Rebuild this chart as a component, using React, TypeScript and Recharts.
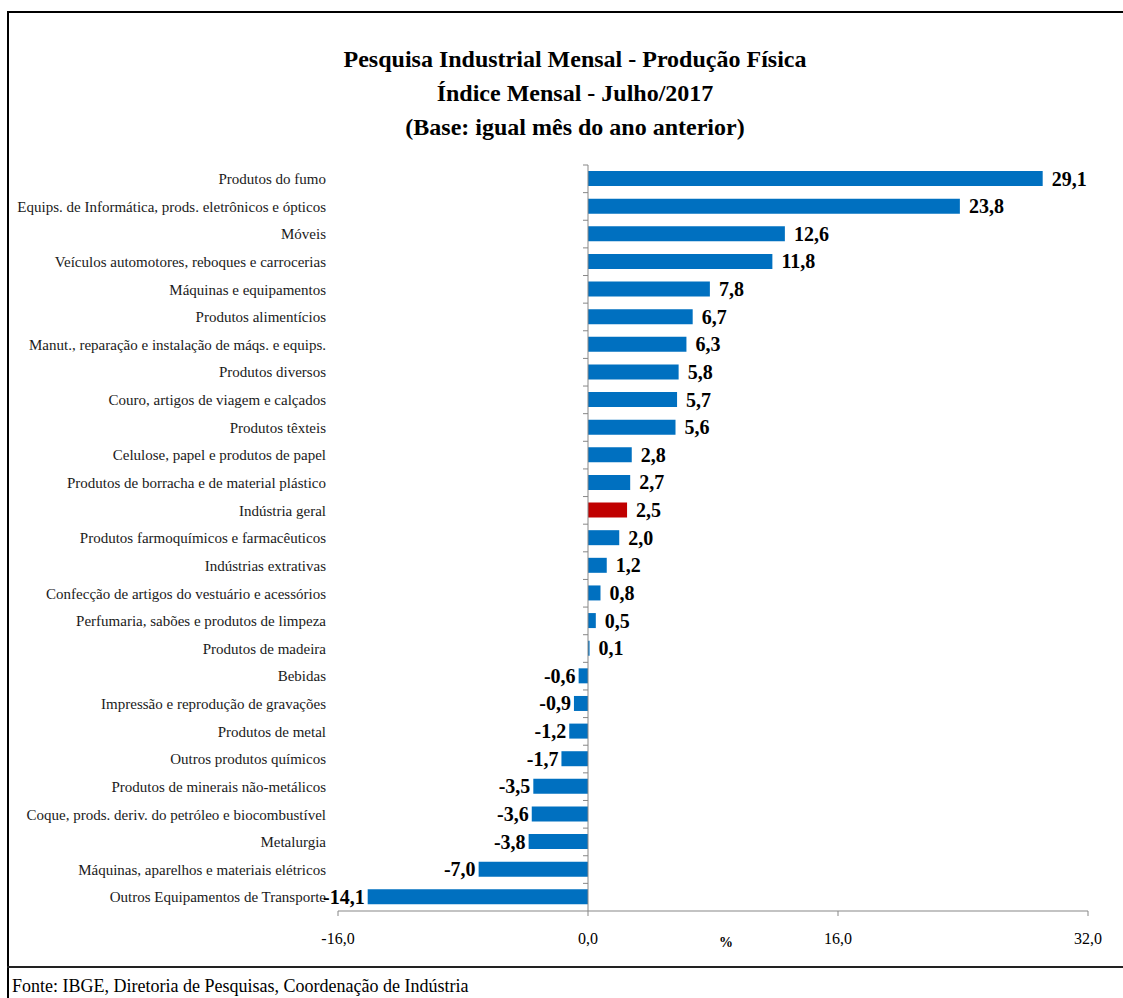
import { BarChart, Bar, XAxis, YAxis, Cell, LabelList, ReferenceLine } from 'recharts';

const categories = [
  'Produtos do fumo',
  'Equips. de Informática, prods. eletrônicos e ópticos',
  'Móveis',
  'Veículos automotores, reboques e carrocerias',
  'Máquinas e equipamentos',
  'Produtos alimentícios',
  'Manut., reparação e instalação de máqs. e equips.',
  'Produtos diversos',
  'Couro, artigos de viagem e calçados',
  'Produtos têxteis',
  'Celulose, papel e produtos de papel',
  'Produtos de borracha e de material plástico',
  'Indústria geral',
  'Produtos farmoquímicos e farmacêuticos',
  'Indústrias extrativas',
  'Confecção de artigos do vestuário e acessórios',
  'Perfumaria, sabões e produtos de limpeza',
  'Produtos de madeira',
  'Bebidas',
  'Impressão e reprodução de gravações',
  'Produtos de metal',
  'Outros produtos químicos',
  'Produtos de minerais não-metálicos',
  'Coque, prods. deriv. do petróleo e biocombustível',
  'Metalurgia',
  'Máquinas, aparelhos e materiais elétricos',
  'Outros Equipamentos de Transporte',
];

const values = [
  29.1, 23.8, 12.6, 11.8, 7.8, 6.7, 6.3, 5.8, 5.7, 5.6, 2.8, 2.7, 2.5, 2.0, 1.2,
  0.8, 0.5, 0.1, -0.6, -0.9, -1.2, -1.7, -3.5, -3.6, -3.8, -7.0, -14.1,
];

const xTicks = [-16, 0, 16, 32];
const highlight = 'Indústria geral';

const data = categories.map((label, i) => ({ label, value: values[i] }));

const W = 1123;
const H = 998;
const X_AXIS_H = 30;
const MARGIN = { top: 165, right: 35, bottom: 87 - X_AXIS_H, left: 8 };
const Y_AXIS_W = 330;
const PLOT_LEFT = MARGIN.left + Y_AXIS_W;
const PLOT_W = W - PLOT_LEFT - MARGIN.right;
const PLOT_H = H - MARGIN.top - MARGIN.bottom - X_AXIS_H;
const ZERO_X = PLOT_LEFT + (16 / 48) * PLOT_W;
const BAND = PLOT_H / categories.length;
const AXIS_GRAY = '#878787';
const FONT = '"Liberation Serif", "DejaVu Serif", serif';

const fmt = (v: number) => v.toFixed(1).replace('.', ',');

// category label plus the small tick on the zero line, between categories
const CategoryTick = (props: any) => {
  const { y, payload } = props;
  const top = y - BAND / 2;
  return (
    <g>
      <text x={326} y={y} dy="0.35em" textAnchor="end" fontSize={15} fill="#1a1a1a" fontFamily={FONT}>
        {payload.value}
      </text>
      <line x1={ZERO_X - 5} x2={ZERO_X} y1={top} y2={top} stroke={AXIS_GRAY} />
    </g>
  );
};

const ValueLabel = (props: any) => {
  const { x, y, width, height, value } = props;
  const left = Math.min(x, x + width);
  const right = Math.max(x, x + width);
  const neg = value < 0;
  return (
    <text
      x={neg ? left - 3 : right + 9}
      y={y + height / 2}
      dy="0.35em"
      textAnchor={neg ? 'end' : 'start'}
      fontSize={20}
      fontWeight="bold"
      fill="#000"
      fontFamily={FONT}
    >
      {fmt(value)}
    </text>
  );
};

export default function App() {
  return (
    <div style={{ position: 'fixed', left: 0, top: 0, width: W, height: H, background: '#fff', overflow: 'hidden' }}>
      <div style={{ position: 'absolute', left: 7, top: 11, width: W, height: 2, background: '#000' }} />
      <div style={{ position: 'absolute', left: 7, top: 11, width: 2, height: H, background: '#000' }} />
      <div style={{ position: 'absolute', left: 7, top: 966, width: W, height: 2, background: '#222' }} />
      <div
        style={{
          position: 'absolute',
          left: 0,
          top: 42,
          width: 1150,
          textAlign: 'center',
          fontFamily: FONT,
          fontWeight: 'bold',
          fontSize: 24,
          lineHeight: '34px',
          color: '#000',
        }}
      >
        <div>Pesquisa Industrial Mensal - Produção Física</div>
        <div>Índice Mensal - Julho/2017</div>
        <div>(Base: igual mês do ano anterior)</div>
      </div>
      <div
        style={{
          position: 'absolute',
          left: 12,
          top: 976,
          fontFamily: FONT,
          fontSize: 18,
          color: '#000',
          whiteSpace: 'nowrap',
        }}
      >
        Fonte: IBGE, Diretoria de Pesquisas, Coordenação de Indústria
      </div>
      <div style={{ position: 'absolute', left: 0, top: 0 }}>
        <BarChart width={W} height={H} data={data} layout="vertical" margin={MARGIN}>
          <XAxis
            type="number"
            domain={[-16, 32]}
            ticks={xTicks}
            tickFormatter={fmt}
            height={X_AXIS_H}
            stroke={AXIS_GRAY}
            tickSize={5}
            tickMargin={17}
            tick={{ fontSize: 16, fill: '#000', fontFamily: FONT }}
            label={{ value: '%', position: 'bottom', offset: -4, dx: 13, fontSize: 14, fontWeight: 'bold', fill: '#000', fontFamily: FONT }}
          />
          <YAxis
            type="category"
            dataKey="label"
            width={Y_AXIS_W}
            axisLine={false}
            tickLine={false}
            interval={0}
            tick={<CategoryTick />}
          />
          <ReferenceLine x={0} stroke={AXIS_GRAY} />
          <Bar dataKey="value" barSize={15} isAnimationActive={false}>
            {data.map((d, i) => (
              <Cell key={`cell-${i}`} fill={d.label === highlight ? '#C00000' : '#0070C0'} />
            ))}
            <LabelList dataKey="value" content={<ValueLabel />} />
          </Bar>
        </BarChart>
      </div>
    </div>
  );
}
